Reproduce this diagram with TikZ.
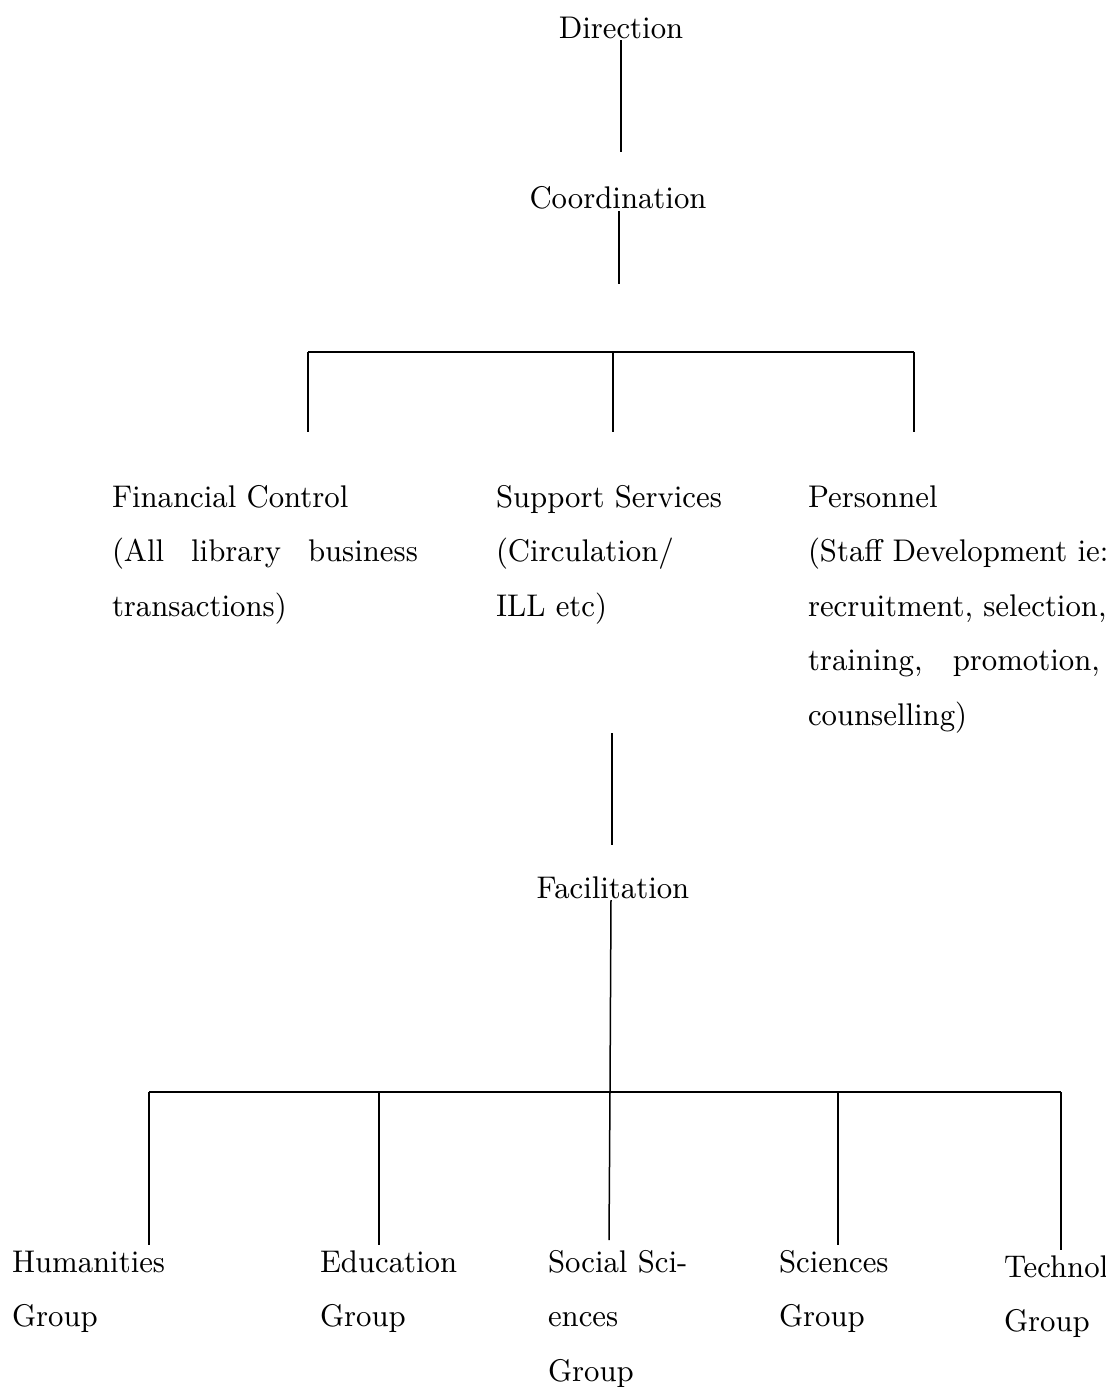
\documentclass[tikz,border=0pt]{standalone}
\usepackage{graphicx}
\begin{document}
\begin{tikzpicture}[x=0.3pt,y=-0.3pt,
  lbl/.style={inner sep=0pt,outer sep=0pt,font=\fontsize{9.4}{16.3}\selectfont},
  conn/.style={line width=0.45pt}]
\useasboundingbox (0,0) rectangle (1106,1387);
\newcommand{\sq}[1]{\scalebox{0.955}[1]{#1}}
\newcommand{\blk}[1]{\sq{\vtop{\baselineskip=16.35pt\lineskiplimit=-10pt #1}}}
% top levels
\node[lbl,anchor=base] (dir) at (621,38) {\sq{Direction}};
\node[lbl,anchor=base] (coord) at (618,208) {\sq{Coordination}};
\coordinate (d1) at (621,152);
\coordinate (c1) at (619,284);
\draw[conn] (621,40) -- (d1);
\draw[conn] (619,211) -- (c1);
% first bar
\coordinate (b1l) at (308,352);
\coordinate (b1m) at (613,352);
\coordinate (b1r) at (914,352);
\coordinate (e1) at (308,432);
\coordinate (e2) at (613,432);
\coordinate (e3) at (914,432);
\draw[conn] (b1l) -- (b1r);
\draw[conn] (b1l) -- (e1);
\draw[conn] (b1m) -- (e2);
\draw[conn] (b1r) -- (e3);
% second level
\node[lbl,anchor=base west] (fin) at (112,507) {\blk{\hbox{Financial Control}\hbox{\makebox[96.1pt][s]{(All library business}}\hbox{transactions)}}};
\node[lbl,anchor=base west] (sup) at (496,507) {\blk{\hbox{Support Services}\hbox{(Circulation/}\hbox{ILL etc)}}};
\node[lbl,anchor=base west] (per) at (808,507) {\blk{\hbox{Personnel}\hbox{(Staff Development ie:}\hbox{recruitment, selection,}\hbox{\makebox[91.7pt][s]{training, promotion,}}\hbox{counselling)}}};
% support -> facilitation
\coordinate (s1) at (612,733);
\coordinate (s2) at (612,845);
\draw[conn] (s1) -- (s2);
\node[lbl,anchor=base] (fac) at (613,898) {\sq{Facilitation}};
% second bar
\coordinate (b2l) at (149,1092);
\coordinate (b2m) at (610,1092);
\coordinate (b2r) at (1061,1092);
\draw[conn] (611,900) -- (b2m);
\draw[conn] (b2l) -- (b2r);
\coordinate (g1) at (149,1245);
\coordinate (g2) at (379,1245);
\coordinate (g3) at (609,1240);
\coordinate (g4) at (838,1245);
\coordinate (g5) at (1061,1250);
\draw[conn] (b2l) -- (g1);
\draw[conn] (379,1092) -- (g2);
\draw[conn] (b2m) -- (g3);
\draw[conn] (838,1092) -- (g4);
\draw[conn] (b2r) -- (g5);
% groups
\node[lbl,anchor=base west] (hum) at (12,1272) {\blk{\hbox{Humanities}\hbox{Group}}};
\node[lbl,anchor=base west] (edu) at (320,1272) {\blk{\hbox{Education}\hbox{Group}}};
\node[lbl,anchor=base west] (soc) at (548,1272) {\blk{\hbox{Social Sci-}\hbox{ences}\hbox{Group}}};
\node[lbl,anchor=base west] (sci) at (779,1272) {\blk{\hbox{Sciences}\hbox{Group}}};
\node[lbl,anchor=base west] (tec) at (1004,1277) {\blk{\hbox{Technol}\hbox{Group}}};
\end{tikzpicture}
\end{document}
